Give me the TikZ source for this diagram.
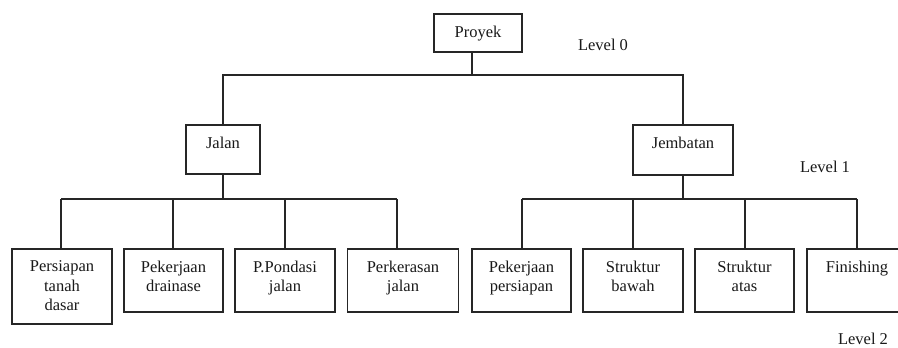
\documentclass[tikz,border=0pt]{standalone}
\usepackage{fontspec}
\setmainfont{Liberation Serif}
\begin{document}
\begin{tikzpicture}[x=1pt,y=-1pt,
  line width=1.6pt, draw=black!85,
  txt/.style={font=\fontsize{16.5}{19.5}\selectfont, text=black!90},
  wbox/.style={draw=black!85, line width=1.6pt, minimum width=#1, inner sep=0pt, anchor=north},
  lbl/.style={label={[txt, anchor=north, yshift=-12pt, inner sep=0pt, align=center]north:{#1}}},
  lvl/.style={txt}
]
\useasboundingbox (0,0) rectangle (898,348);
% level 0
\node[wbox=88, minimum height=38, lbl={Proyek}] (proyek) at (478,13) {};
\node[lvl] (lv0) at (603,45) {Level 0};
% level 1
\node[wbox=74, minimum height=49, lbl={Jalan}] (jalan) at (223,124) {};
\node[wbox=100, minimum height=50, lbl={Jembatan}] (jembatan) at (683,124) {};
\node[lvl] (lv1) at (825,167) {Level 1};
% level 2
\node[wbox=100, minimum height=75, lbl={Persiapan\\tanah\\dasar}] (c1) at (62,248) {};
\node[wbox=99, minimum height=63, lbl={Pekerjaan\\drainase}] (c2) at (173.5,248) {};
\node[wbox=100, minimum height=63, lbl={P.Pondasi\\jalan}] (c3) at (285,248) {};
\node[wbox=111, minimum height=63, lbl={Perkerasan\\jalan}] (c4) at (403,248) {};
\node[wbox=99, minimum height=63, lbl={Pekerjaan\\persiapan}] (c5) at (521.5,248) {};
\node[wbox=100, minimum height=63, lbl={Struktur\\bawah}] (c6) at (633,248) {};
\node[wbox=99, minimum height=63, lbl={Struktur\\atas}] (c7) at (744.5,248) {};
\node[wbox=100, minimum height=63, lbl={Finishing}] (c8) at (857,248) {};
\node[lvl] (lv2) at (863,339) {Level 2};
% connectors level 0 -> 1
\coordinate (t0) at (472,75);
\draw (proyek.south -| t0) -- (t0);
\draw (jalan.north) -- (jalan.north |- t0) -- (jembatan.north |- t0) -- (jembatan.north);
% connectors level 1 -> 2
\coordinate (k1) at (61,199);
\coordinate (k2) at (173,199);
\coordinate (k3) at (285,199);
\coordinate (k4) at (397,199);
\coordinate (k5) at (522,199);
\coordinate (k6) at (633,199);
\coordinate (k7) at (745,199);
\coordinate (k8) at (857,199);
\draw (jalan.south) -- (jalan.south |- k1);
\draw (jembatan.south) -- (jembatan.south |- k5);
\draw (k1) -- (k4);
\draw (k5) -- (k8);
\foreach \i in {1,...,8} {\draw (k\i) -- (k\i |- c\i.north);}
\end{tikzpicture}
\end{document}
